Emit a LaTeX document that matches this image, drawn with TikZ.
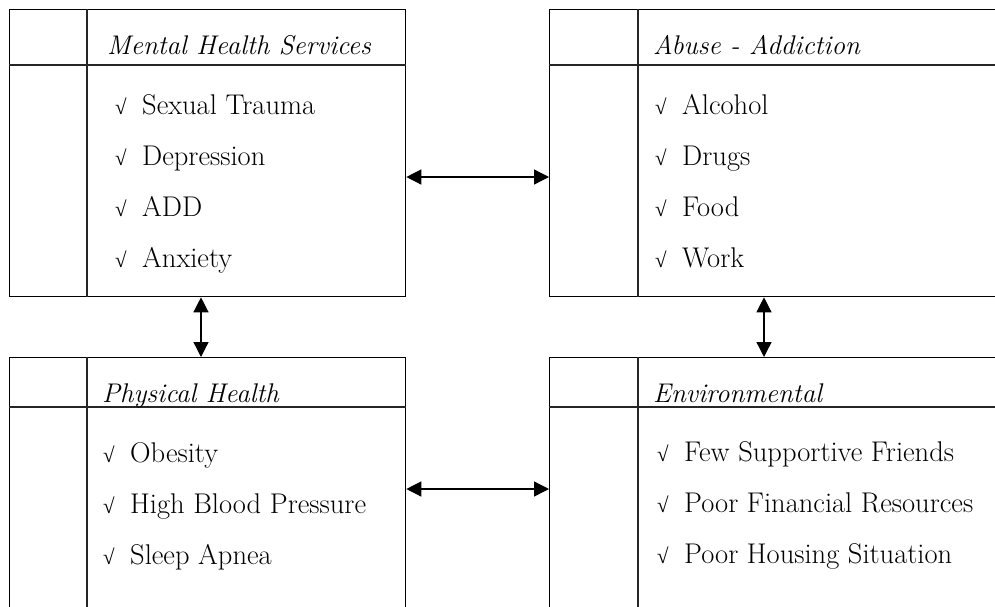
\documentclass[tikz,border=0pt]{standalone}
\usepackage{fontspec}
\newfontfamily\checkfont{Liberation Serif}
\usetikzlibrary{arrows.meta,positioning}
\tikzstyle{panel} = [rectangle, draw, line width=1.3pt, anchor=north west,
    inner sep=0pt, minimum height=287pt]
\tikzstyle{rule} = [draw, line width=1.2pt, black!85]
\tikzstyle{title} = [anchor=base west, inner sep=0pt,
    font=\fontsize{27}{32}\selectfont\itshape]
\tikzstyle{item} = [anchor=base west, inner sep=0pt,
    font=\fontsize{28.5}{34}\selectfont]
\tikzstyle{line} = [draw, line width=1.3pt,
    {Triangle[length=15pt,width=15pt]}-{Triangle[length=15pt,width=15pt]}]
\newcommand{\tick}{\makebox[27pt][l]{\checkfont\fontsize{21}{24}\selectfont √}}

\begin{document}
\begin{tikzpicture}[x=1pt, y=1pt]
    \useasboundingbox (0,0) rectangle (995,-606);
    \clip (0,0) rectangle (995,-606);
    % Place panels
    \node [panel, minimum width=396pt] (mental) at (9,-9) {};
    \node [panel, minimum width=460pt] (abuse) at (549,-9) {};
    \node [panel, minimum width=396pt] (physical) at (9,-357) {};
    \node [panel, minimum width=460pt] (environ) at (549,-357) {};
    % Inner rules
    \draw [rule] ([xshift=78pt]mental.north west) -- ([xshift=78pt]mental.south west);
    \draw [rule] ([yshift=-56pt]mental.north west) -- ([yshift=-56pt]mental.north east);
    \draw [rule] ([xshift=89pt]abuse.north west) -- ([xshift=89pt]abuse.south west);
    \draw [rule] ([yshift=-56pt]abuse.north west) -- ([yshift=-56pt]abuse.north east);
    \draw [rule] ([xshift=78pt]physical.north west) -- ([xshift=78pt]physical.south west);
    \draw [rule] ([yshift=-50pt]physical.north west) -- ([yshift=-50pt]physical.north east);
    \draw [rule] ([xshift=89pt]environ.north west) -- ([xshift=89pt]environ.south west);
    \draw [rule] ([yshift=-50pt]environ.north west) -- ([yshift=-50pt]environ.north east);
    % Titles
    \node [title] (mentaltitle) at (107,-54) {Mental Health Services};
    \node [title] (abusetitle) at (653,-54) {Abuse - Addiction};
    \node [title] (physicaltitle) at (102,-402) {Physical Health};
    \node [title] (environtitle) at (653,-402) {Environmental};
    % Items
    \node [item] (trauma) at (115,-114) {\tick Sexual Trauma};
    \node [item] (depression) at ([yshift=-51pt]trauma.base west) {\tick Depression};
    \node [item] (add) at ([yshift=-51pt]depression.base west) {\tick ADD};
    \node [item] (anxiety) at ([yshift=-51pt]add.base west) {\tick Anxiety};
    \node [item] (alcohol) at (655,-114) {\tick Alcohol};
    \node [item] (drugs) at ([yshift=-51pt]alcohol.base west) {\tick Drugs};
    \node [item] (food) at ([yshift=-51pt]drugs.base west) {\tick Food};
    \node [item] (work) at ([yshift=-51pt]food.base west) {\tick Work};
    \node [item] (obesity) at (103,-462) {\tick Obesity};
    \node [item] (pressure) at ([yshift=-51pt]obesity.base west) {\tick High Blood Pressure};
    \node [item] (apnea) at ([yshift=-51pt]pressure.base west) {\tick Sleep Apnea};
    \node [item] (friends) at (657,-461) {\tick Few Supportive Friends};
    \node [item] (finance) at ([yshift=-51pt]friends.base west) {\tick Poor Financial Resources};
    \node [item] (housing) at ([yshift=-51pt]finance.base west) {\tick Poor Housing Situation};
    % Draw links
    \path [line] ([yshift=-168pt]mental.north east) -- ([yshift=-168pt]abuse.north west);
    \path [line] ([yshift=-132pt]physical.north east) -- ([yshift=-132pt]environ.north west);
    \path [line] ([xshift=192pt]mental.south west) -- ([xshift=192pt]physical.north west);
    \path [line] ([xshift=215pt]abuse.south west) -- ([xshift=215pt]environ.north west);
\end{tikzpicture}
\end{document}
